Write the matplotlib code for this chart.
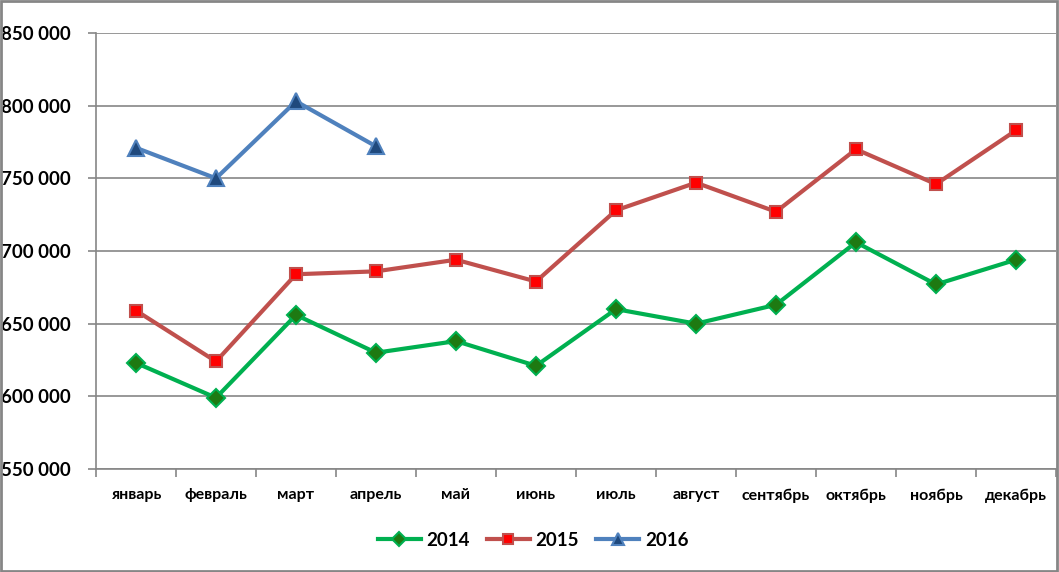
import matplotlib
matplotlib.use("Agg")
import matplotlib.pyplot as plt
from matplotlib.patches import Rectangle

months = ["январь", "февраль", "март", "апрель", "май", "июнь",
          "июль", "август", "сентябрь", "октябрь", "ноябрь", "декабрь"]
v2014 = [623000, 599000, 656000, 630000, 638000, 621000,
         660000, 650000, 663000, 706000, 677000, 694000]
v2015 = [659000, 624000, 684000, 686000, 694000, 679000,
         728000, 747000, 727000, 770000, 746000, 783000]
v2016 = [771000, 750000, 803000, 772000]
yticks = [550000, 600000, 650000, 700000, 750000, 800000, 850000]

plt.rcParams['font.family'] = ['Lato', 'DejaVu Sans']
plt.rcParams['font.weight'] = 'bold'

fig = plt.figure(figsize=(10.59, 5.72), dpi=100)
ax = fig.add_axes([96/1059, 103/572, 960/1059, 436/572])

x = list(range(len(months)))
ax.plot(x, v2014, color="#00B050", lw=3, marker="D", ms=9,
        mfc="#1E7A12", mec="#00B050", mew=1.5, label="2014", zorder=3)
ax.plot(x, v2015, color="#C0504D", lw=3, marker="s", ms=9,
        mfc="#FF0000", mec="#C0504D", mew=1.5, label="2015", zorder=3)
ax.plot(x[:len(v2016)], v2016, color="#4F81BD", lw=3, marker="^", ms=11,
        mfc="#1F497D", mec="#4F81BD", mew=1.5, label="2016", zorder=3)

ax.set_xlim(-0.5, len(months) - 0.5)
ax.set_ylim(550000, 850000)
ax.set_yticks(yticks)
ax.set_yticklabels([f"{v:,}".replace(",", " ") for v in yticks])
ax.yaxis.grid(True, color="#868686", lw=1.2)
ax.set_axisbelow(True)

ax.set_xticks(x)
ax.set_xticklabels(months)
ax.set_xticks([i + 0.5 for i in range(-1, len(months))], minor=True)
ax.tick_params(axis='x', which='major', length=0, pad=14, labelsize=11.5)
ax.tick_params(axis='x', which='minor', length=6, color="#868686", width=1.2)
ax.tick_params(axis='y', length=6, color="#868686", width=1.2, pad=12, labelsize=13.5)

for s in ["top", "right"]:
    ax.spines[s].set_visible(False)
for s in ["left", "bottom"]:
    ax.spines[s].set_color("#868686")
    ax.spines[s].set_linewidth(1.2)

leg = fig.legend(loc="center", bbox_to_anchor=(533/1059, 1 - 540/572), ncol=3,
                 frameon=False, fontsize=13.5, handlelength=2.3, columnspacing=0.9,
                 handletextpad=0.3, markerscale=0.75)

fig.patches.append(Rectangle((0.001, 0.002), 0.997, 0.996, transform=fig.transFigure,
                             fill=False, edgecolor="#868686", lw=2))

fig.savefig("out.png", dpi=100)
